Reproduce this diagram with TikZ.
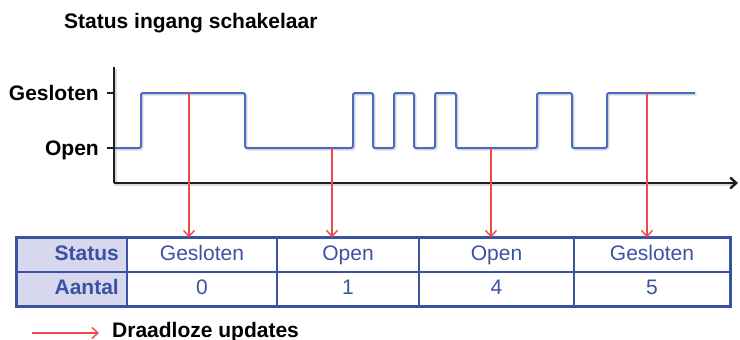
\documentclass[tikz,border=0pt]{standalone}
\usepackage{fontspec}
\setmainfont{Liberation Sans}
\usetikzlibrary{arrows.meta}
\definecolor{sigblue}{HTML}{4A6BC2}
\definecolor{tblue}{HTML}{3A52A3}
\definecolor{hdrfill}{HTML}{D7D7ED}
\definecolor{upred}{HTML}{F04848}
\definecolor{axisgray}{HTML}{1E1E1E}
\begin{document}
\begin{tikzpicture}[x=1pt,y=-1pt,
  txt/.style={font=\fontsize{21}{24}\selectfont, inner sep=0pt},
  boldtxt/.style={inner sep=0pt, font=\fontsize{21}{24}\selectfont\bfseries},
  cell/.style={txt, text=tblue, draw=tblue, line width=1.2pt, minimum height=34pt,
    text height=15pt, text depth=5pt},
  hdrcell/.style={cell, fill=hdrfill},
  hdrtxt/.style={boldtxt, text=tblue, anchor=base east},
  axisline/.style={draw=axisgray, line width=2.4pt},
  shadowline/.style={draw=black!25, line width=2.6pt, opacity=0.6},
  signal/.style={draw=sigblue, line width=2pt, rounded corners=1.5pt, line join=round},
  update/.style={draw=upred, line width=1.4pt, -{Straight Barb[length=6pt,width=11pt]}}
]
\useasboundingbox (0,0) rectangle (740,340);

% title
\node[boldtxt, anchor=base west] (title) at (64,28) {Status ingang schakelaar};

% axes
\coordinate (ytop) at (114,67);
\coordinate (orig) at (114,183);
\coordinate (xend) at (738,183);
\draw[shadowline] ([shift={(1.5,1.5)}]ytop) -- ([shift={(1.5,1.5)}]orig) -- ([shift={(-4,1.5)}]xend);
\draw[axisline] (ytop) -- (orig);
\draw[axisline, -{Straight Barb[length=6pt,width=11pt]}] (orig) -- (xend);
\coordinate (tg) at (114,93);
\coordinate (to) at (114,148);
\draw[axisgray, line width=1.6pt] (tg) -- ++(-7,0);
\draw[axisgray, line width=1.6pt] (to) -- ++(-7,0);
\node[boldtxt, anchor=base east] (lblg) at (99,100) {Gesloten};
\node[boldtxt, anchor=base east] (lblo) at (99,155) {Open};

% signal
\def\sigpath{(115,148) -- (141,148) -- (141,93) -- (245,93) -- (245,148) -- (353,148) -- (353,93) -- (373,93) -- (373,148) -- (394,148) -- (394,93) -- (414,93) -- (414,148) -- (435,148) -- (435,93) -- (456,93) -- (456,148) -- (537,148) -- (537,93) -- (572,93) -- (572,148) -- (607,148) -- (607,93) -- (695,93)}
\begin{scope}[shift={(1.5,1.5)}]
\draw[draw=black!20, line width=2.4pt, rounded corners=1.5pt, opacity=0.6] \sigpath;
\end{scope}
\draw[signal] \sigpath;

% table
\node[hdrcell, minimum width=110pt] (h1) at (72,255) {};
\node[hdrcell, minimum width=110pt] (h2) at (72,289) {};
\node[hdrtxt] (hs) at (119,260) {Status};
\node[hdrtxt] (ha) at (119,294) {Aantal};
\node[cell, minimum width=150pt] (s1) at (202,255) {Gesloten};
\node[cell, minimum width=142pt] (s2) at (348,255) {Open};
\node[cell, minimum width=155pt] (s3) at (496.5,255) {Open};
\node[cell, minimum width=156pt] (s4) at (652,255) {Gesloten};
\node[cell, minimum width=150pt] (a1) at (202,289) {0};
\node[cell, minimum width=142pt] (a2) at (348,289) {1};
\node[cell, minimum width=155pt] (a3) at (496.5,289) {4};
\node[cell, minimum width=156pt] (a4) at (652,289) {5};
\draw[tblue, line width=2.4pt] (h1.north west) rectangle (a4.south east);

% updates
\coordinate (u1) at (189,93);
\coordinate (u2) at (332,148);
\coordinate (u3) at (491,148);
\coordinate (u4) at (647,93);
\draw[update] (u1) -- (u1 |- s1.north);
\draw[update] (u2) -- (u2 |- s2.north);
\draw[update] (u3) -- (u3 |- s3.north);
\draw[update] (u4) -- (u4 |- s4.north);

% legend
\coordinate (la) at (32,333);
\coordinate (lb) at (99,333);
\draw[update] (la) -- (lb);
\node[boldtxt, anchor=base west] (legtxt) at (112,337) {Draadloze updates};
\end{tikzpicture}
\end{document}
